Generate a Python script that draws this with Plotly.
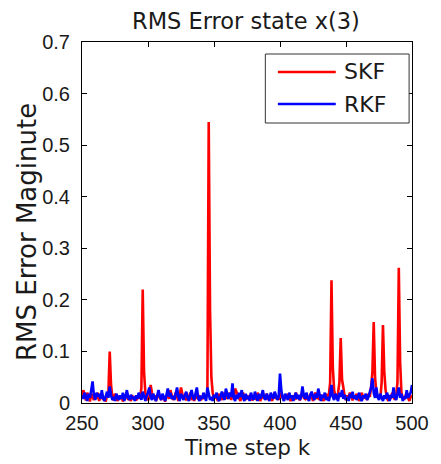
import plotly.graph_objects as go

k_steps = list(range(250, 501))

skf = [
    0.010, 0.025, 0.015, 0.005, 0.020, 0.012, 0.003, 0.018, 0.010, 0.006,
    0.015, 0.008, 0.020, 0.004, 0.012, 0.018, 0.006, 0.010, 0.003, 0.015,
    0.020, 0.100, 0.035, 0.012, 0.005, 0.018, 0.010, 0.004, 0.014, 0.008,
    0.012, 0.003, 0.016, 0.009, 0.020, 0.006, 0.011, 0.004, 0.015, 0.008,
    0.012, 0.005, 0.010, 0.018, 0.008, 0.030, 0.220, 0.060, 0.020, 0.010,
    0.005, 0.012, 0.035, 0.020, 0.008, 0.015, 0.004, 0.010, 0.020, 0.012,
    0.006, 0.016, 0.010, 0.003, 0.012, 0.018, 0.008, 0.025, 0.015, 0.006,
    0.010, 0.020, 0.012, 0.004, 0.015, 0.030, 0.018, 0.008, 0.012, 0.005,
    0.015, 0.010, 0.020, 0.006, 0.012, 0.004, 0.018, 0.010, 0.008, 0.015,
    0.005, 0.012, 0.008, 0.015, 0.010, 0.020, 0.545, 0.180, 0.050, 0.020,
    0.008, 0.015, 0.010, 0.004, 0.018, 0.012, 0.006, 0.020, 0.010, 0.015,
    0.008, 0.012, 0.020, 0.006, 0.015, 0.010, 0.028, 0.022, 0.015, 0.008,
    0.004, 0.012, 0.020, 0.010, 0.006, 0.015, 0.008, 0.012, 0.018, 0.005,
    0.010, 0.015, 0.006, 0.020, 0.012, 0.004, 0.010, 0.016, 0.008, 0.012,
    0.018, 0.006, 0.010, 0.015, 0.004, 0.012, 0.020, 0.008, 0.014, 0.006,
    0.012, 0.020, 0.010, 0.005, 0.015, 0.008, 0.018, 0.012, 0.004, 0.010,
    0.015, 0.006, 0.020, 0.010, 0.012, 0.005, 0.016, 0.022, 0.010, 0.008,
    0.014, 0.006, 0.010, 0.018, 0.012, 0.004, 0.015, 0.020, 0.008, 0.012,
    0.006, 0.016, 0.010, 0.004, 0.012, 0.018, 0.008, 0.015, 0.040, 0.238,
    0.070, 0.025, 0.012, 0.008, 0.020, 0.040, 0.126, 0.045, 0.030, 0.012,
    0.006, 0.015, 0.010, 0.020, 0.012, 0.005, 0.015, 0.008, 0.018, 0.010,
    0.004, 0.012, 0.020, 0.008, 0.015, 0.010, 0.006, 0.018, 0.012, 0.030,
    0.060, 0.157, 0.050, 0.020, 0.010, 0.015, 0.008, 0.040, 0.151, 0.060,
    0.025, 0.010, 0.004, 0.015, 0.008, 0.020, 0.012, 0.006, 0.015, 0.040,
    0.262, 0.080, 0.020, 0.010, 0.006, 0.015, 0.020, 0.010, 0.004, 0.012,
    0.015,
]

rkf = [
    0.015, 0.008, 0.020, 0.012, 0.004, 0.018, 0.010, 0.025, 0.042, 0.015,
    0.006, 0.020, 0.012, 0.018, 0.008, 0.025, 0.010, 0.004, 0.016, 0.022,
    0.010, 0.032, 0.015, 0.006, 0.012, 0.004, 0.018, 0.010, 0.006, 0.015,
    0.008, 0.020, 0.004, 0.012, 0.025, 0.010, 0.006, 0.016, 0.008, 0.012,
    0.004, 0.015, 0.008, 0.020, 0.012, 0.006, 0.022, 0.010, 0.004, 0.014,
    0.020, 0.030, 0.012, 0.006, 0.018, 0.010, 0.004, 0.015, 0.025, 0.012,
    0.006, 0.018, 0.010, 0.004, 0.016, 0.028, 0.012, 0.020, 0.008, 0.014,
    0.006, 0.020, 0.030, 0.012, 0.004, 0.018, 0.010, 0.006, 0.016, 0.022,
    0.010, 0.004, 0.015, 0.025, 0.012, 0.006, 0.018, 0.030, 0.010, 0.004,
    0.014, 0.008, 0.020, 0.012, 0.004, 0.030, 0.018, 0.006, 0.012, 0.004,
    0.016, 0.010, 0.020, 0.008, 0.004, 0.015, 0.022, 0.012, 0.006, 0.028,
    0.015, 0.008, 0.020, 0.012, 0.038, 0.010, 0.004, 0.016, 0.008, 0.020,
    0.012, 0.025, 0.010, 0.004, 0.018, 0.008, 0.014, 0.004, 0.020, 0.010,
    0.006, 0.022, 0.012, 0.004, 0.018, 0.008, 0.015, 0.025, 0.010, 0.006,
    0.018, 0.010, 0.004, 0.020, 0.012, 0.008, 0.022, 0.015, 0.006, 0.012,
    0.057, 0.025, 0.010, 0.004, 0.018, 0.012, 0.006, 0.020, 0.010, 0.015,
    0.004, 0.012, 0.020, 0.008, 0.016, 0.006, 0.012, 0.032, 0.015, 0.008,
    0.020, 0.010, 0.004, 0.015, 0.022, 0.012, 0.006, 0.018, 0.010, 0.028,
    0.012, 0.004, 0.016, 0.010, 0.020, 0.006, 0.012, 0.004, 0.015, 0.035,
    0.012, 0.006, 0.018, 0.010, 0.004, 0.020, 0.012, 0.025, 0.008, 0.016,
    0.006, 0.012, 0.004, 0.018, 0.010, 0.022, 0.008, 0.015, 0.006, 0.012,
    0.020, 0.008, 0.004, 0.015, 0.010, 0.018, 0.006, 0.012, 0.020, 0.030,
    0.048, 0.020, 0.010, 0.030, 0.012, 0.006, 0.018, 0.010, 0.004, 0.015,
    0.008, 0.020, 0.012, 0.004, 0.016, 0.010, 0.030, 0.012, 0.006, 0.022,
    0.030, 0.010, 0.018, 0.004, 0.012, 0.008, 0.025, 0.010, 0.016, 0.020,
    0.035,
]

series_names = ["SKF", "RKF"]
series_colors = ["#ff0000", "#0000ff"]
x_ticks = [250, 300, 350, 400, 450, 500]
y_ticks = [0, 0.1, 0.2, 0.3, 0.4, 0.5, 0.6, 0.7]
y_tick_labels = ["0", "0.1", "0.2", "0.3", "0.4", "0.5", "0.6", "0.7"]

# The page body has an 8px default margin, so the figure is drawn 8px smaller
# and all reference pixel positions are converted with that offset in mind.
OFF = 8
W, H = 441 - OFF, 464 - OFF
PLOT_LEFT, PLOT_RIGHT, PLOT_TOP, PLOT_BOTTOM = 82, 424, 42, 403
L = PLOT_LEFT - OFF
T = PLOT_TOP - OFF
R = 441 - PLOT_RIGHT
B = 464 - PLOT_BOTTOM
PW, PH = PLOT_RIGHT - PLOT_LEFT, PLOT_BOTTOM - PLOT_TOP

def fx(px):
    return (px - PLOT_LEFT) / PW

def fy(py):
    return (PLOT_BOTTOM - py) / PH

TICK_FONT = "Liberation Sans, Arial, Helvetica, sans-serif"
TEXT_FONT = "DejaVu Sans, Liberation Sans, sans-serif"
TXT = "#1a1a1a"

fig = go.Figure()
for name, vals, col in zip(series_names, [skf, rkf], series_colors):
    fig.add_trace(go.Scatter(x=k_steps, y=vals, mode="lines", name=name,
                             line=dict(color=col, width=2.6), showlegend=False))

axis_common = dict(showgrid=False, zeroline=False, showline=True, linecolor="black",
                   linewidth=1, mirror="ticks", ticks="inside", ticklen=5,
                   tickcolor="black", tickfont=dict(size=20, color=TXT, family=TICK_FONT))

shapes = [
    dict(type="rect", xref="paper", yref="paper", x0=fx(272), x1=fx(421),
         y0=fy(123), y1=fy(54), line=dict(color="#333333", width=1), fillcolor="white",
         layer="above"),
]
annotations = [
    dict(text="RMS Error state x(3)", xref="paper", yref="paper", x=fx(252), y=fy(21),
         xanchor="center", yanchor="middle", showarrow=False,
         font=dict(size=22.5, family=TEXT_FONT, color=TXT)),
    dict(text="Time step k", xref="paper", yref="paper", x=fx(253), y=fy(448),
         xanchor="center", yanchor="middle", showarrow=False,
         font=dict(size=21.5, family=TEXT_FONT, color=TXT)),
    dict(text="RMS Error Maginute", xref="paper", yref="paper", x=fx(25), y=fy(232),
         xanchor="center", yanchor="middle", showarrow=False, textangle=-90,
         font=dict(size=26, family=TEXT_FONT, color=TXT)),
]
legend_rows_y = [72, 104]
for name, col, ly in zip(series_names, series_colors, legend_rows_y):
    shapes.append(dict(type="line", xref="paper", yref="paper", x0=fx(285), x1=fx(345),
                       y0=fy(ly), y1=fy(ly), line=dict(color=col, width=2.6), layer="above"))
    annotations.append(dict(text=name, xref="paper", yref="paper", x=fx(351), y=fy(ly),
                            xanchor="left", yanchor="middle", showarrow=False,
                            font=dict(size=22, family=TEXT_FONT, color=TXT)))

fig.update_layout(
    width=W, height=H,
    margin=dict(l=L, r=R, t=T, b=B),
    paper_bgcolor="white", plot_bgcolor="white",
    showlegend=False,
    xaxis=dict(range=[250, 500], tickvals=x_ticks, ticklabelstandoff=2, **axis_common),
    yaxis=dict(range=[0, 0.7], tickvals=y_ticks, ticktext=y_tick_labels,
               ticklabelstandoff=7, **axis_common),
    shapes=shapes,
    annotations=annotations,
)

fig.write_html("out.html", config={"displayModeBar": False})
